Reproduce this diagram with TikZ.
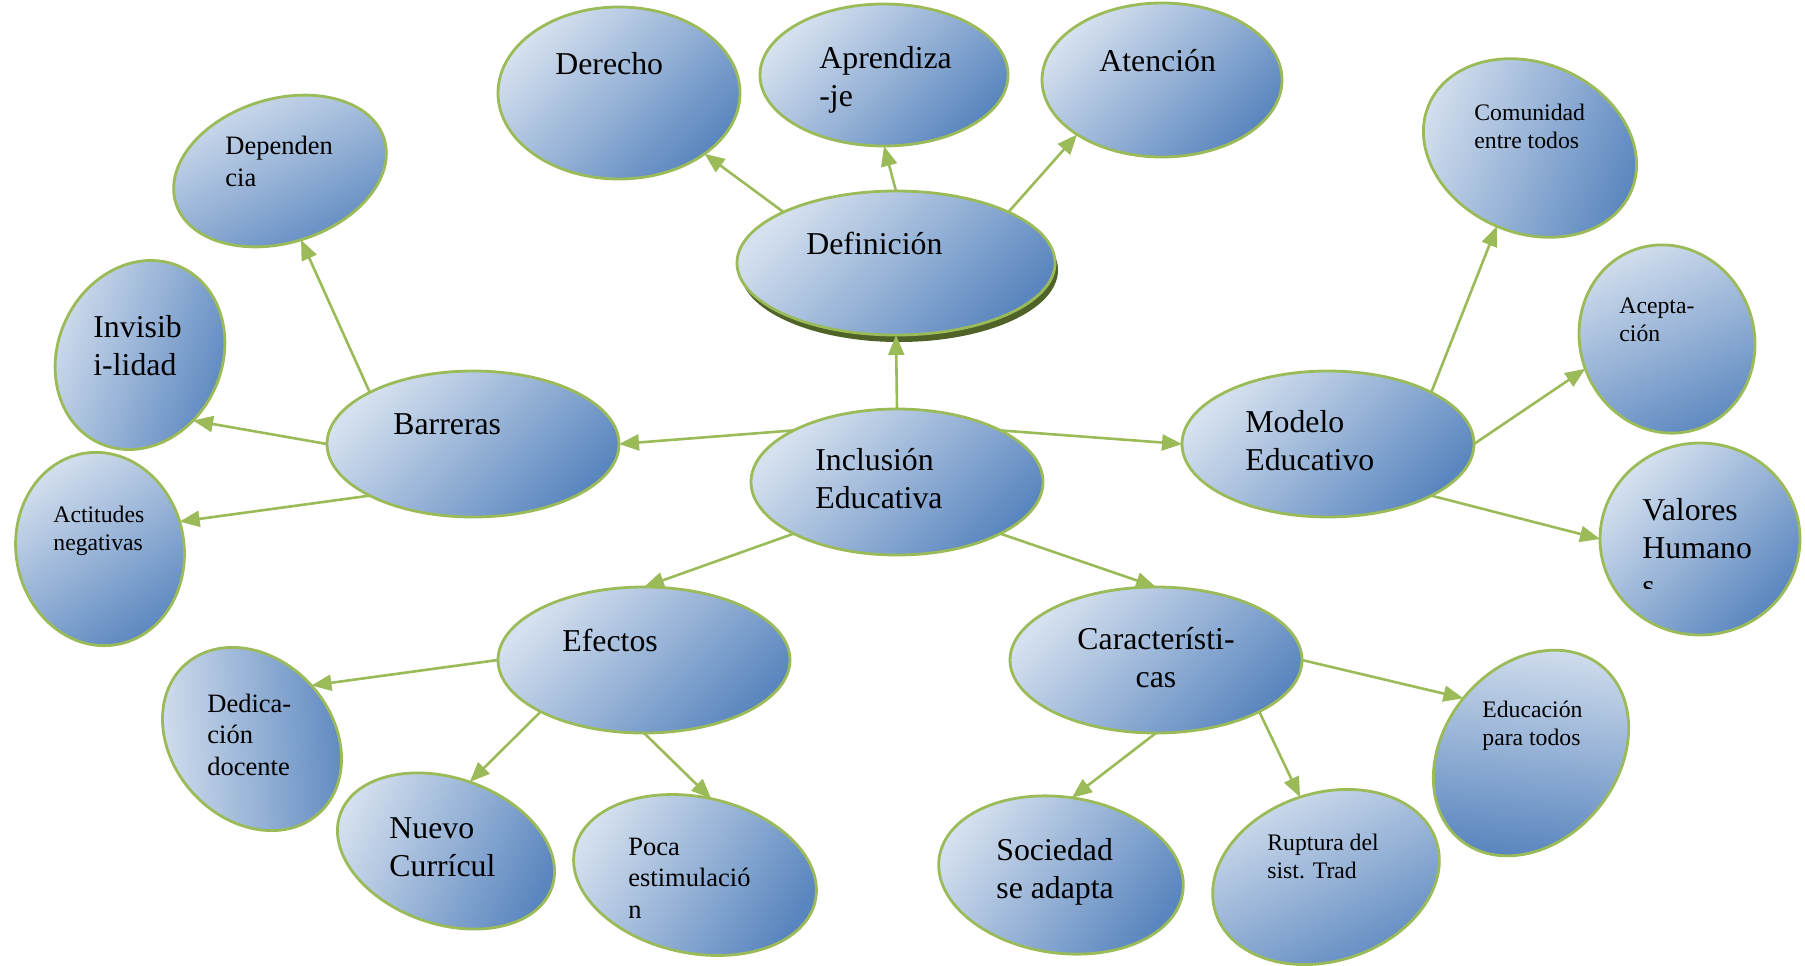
\documentclass[tikz,border=0pt]{standalone}
\usepackage{fontspec}
\setmainfont{Liberation Serif}
\usetikzlibrary{shapes.geometric,arrows.meta}
\definecolor{bord}{HTML}{9BBB59}
\definecolor{lite}{HTML}{D6E1EF}
\definecolor{dark}{HTML}{5A86BF}
\definecolor{shadowg}{HTML}{4F6228}
\tikzset{
  bub/.style n args={4}{ellipse, draw=bord, line width=1.4pt, inner sep=0pt, outer sep=0pt,
    minimum width=#1pt, minimum height=#2pt, top color=lite, bottom color=dark,
    shading angle=#4, rotate=#3},
  conn/.style={draw=bord, line width=1.3pt, -{Triangle[length=10pt,width=8pt]}},
  tb/.style={font=\fontsize{15.9}{19}\selectfont, inner sep=0pt, align=left, anchor=base west},
  tm/.style={font=\fontsize{13.25}{15.6}\selectfont, inner sep=0pt, align=left, anchor=base west},
  ts/.style={font=\fontsize{11.85}{14}\selectfont, inner sep=0pt, align=left, anchor=base west},
}
\begin{document}
\begin{tikzpicture}[x=0.5pt,y=-0.5pt]
\useasboundingbox (0,0) rectangle (1805,965);
% bubbles
\node[bub={121}{86}{0}{45}] (der) at (619,93) {};
\node[bub={124}{71}{0}{45}] (apr) at (884,75) {};
\node[bub={120}{77}{0}{45}] (ate) at (1162,80) {};
\node[ellipse, fill=shadowg, inner sep=0pt, outer sep=0pt, minimum width=159pt, minimum height=72pt] (defsh) at (899,270) {};
\node[bub={159}{72}{0}{45}] (def) at (896,263) {};
\node[bub={110}{85}{-23}{68}] (com) at (1530,148) {};
\node[bub={109}{72}{17}{28}] (dep) at (280,171) {};
\node[bub={82}{97}{-25}{70}] (inv) at (140,355) {};
\node[bub={84}{97}{10}{35}] (act) at (100,549) {};
\node[bub={146}{73}{0}{45}] (bar) at (473,444) {};
\node[bub={146}{73}{0}{45}] (inc) at (897,482) {};
\node[bub={146}{73}{0}{45}] (mod) at (1328,444) {};
\node[bub={87}{95}{20}{25}] (acc) at (1667,339) {};
\node[bub={100}{96}{0}{45}] (val) at (1700,539) {};
\node[bub={146}{73}{0}{45}] (efe) at (644,660) {};
\node[bub={146}{73}{0}{45}] (car) at (1156,660) {};
\node[bub={112}{87}{51}{-6}] (edu) at (1531,753) {};
\node[bub={100}{80}{-48}{93}] (ded) at (252,739) {};
\node[bub={112}{73}{-19}{64}] (nue) at (446,851) {};
\node[bub={123}{78}{-12}{57}] (poc) at (695,875) {};
\node[bub={123}{78}{-8}{53}] (soc) at (1061,875) {};
\node[bub={116}{84}{18}{27}] (rup) at (1326,877) {};
% texts (anchor = baseline of the last line)
\node[tb] (t-der) at (555,74) {Derecho};
\node[tb] (t-apr) at (819,106) {Aprendiza\\-je};
\node[tb] (t-ate) at (1099,71) {Atención};
\node[tb] (t-def) at (806,254) {Definición};
\node[ts] (t-com) at (1474,148) {Comunidad\\entre todos};
\node[tm] (t-dep) at (225,186) {Dependen\\cia};
\node[tb] (t-inv) at (93,375) {Invisib\\i-lidad};
\node[ts] (t-act) at (53,550) {Actitudes\\negativas};
\node[tb] (t-bar) at (393,434) {Barreras};
\node[tb] (t-inc) at (815,508) {Inclusión\\Educativa};
\node[tb] (t-mod) at (1245,470) {Modelo\\Educativo};
\node[ts] (t-acc) at (1619,341) {Acepta-\\ción};
\begin{scope}
\clip (1600,440) rectangle (1800,588);
\node[tb] (t-val) at (1642,596) {Valores\\Humano\\s};
\end{scope}
\node[tb] (t-efe) at (562,651) {Efectos};
\node[tb, anchor=base, align=center] (t-car) at (1156,687) {Característi-\\cas};
\node[ts] (t-edu) at (1482,745) {Educación\\para todos};
\node[tm] (t-ded) at (207,775) {Dedica-\\ción\\docente};
\node[tb] (t-nue) at (389,876) {Nuevo\\Currícul};
\node[tm] (t-poc) at (628,918) {Poca\\estimulació\\n};
\node[tb] (t-soc) at (996,898) {Sociedad\\se adapta};
\node[ts] (t-rup) at (1267,878) {Ruptura del\\sist. Trad};
% connectors
\draw[conn] (def.north west) -- (der.south east);
\draw[conn] (def.north) -- (apr.south);
\draw[conn] (def.north east) -- (ate.south west);
\draw[conn] (inc.north) -- (def.south);
\draw[conn] (inc.north west) -- (bar.east);
\draw[conn] (inc.north east) -- (mod.west);
\draw[conn] (inc.south west) -- (efe.north);
\draw[conn] (inc.south east) -- (car.north);
\draw[conn] (bar.north west) -- (dep.south);
\draw[conn] (bar.west) -- (inv.-26);
\draw[conn] (bar.south west) -- (act.9);
\draw[conn] (mod.north east) -- (com.south);
\draw[conn] (mod.east) -- (acc.west);
\draw[conn] (mod.south east) -- (val.west);
\draw[conn] (efe.west) -- (ded.north);
\draw[conn] (efe.south west) -- (nue.north);
\draw[conn] (efe.south) -- (poc.north);
\draw[conn] (car.east) -- (edu.north);
\draw[conn] (car.south) -- (soc.north);
\draw[conn] (car.south east) -- (rup.north);
\end{tikzpicture}
\end{document}
